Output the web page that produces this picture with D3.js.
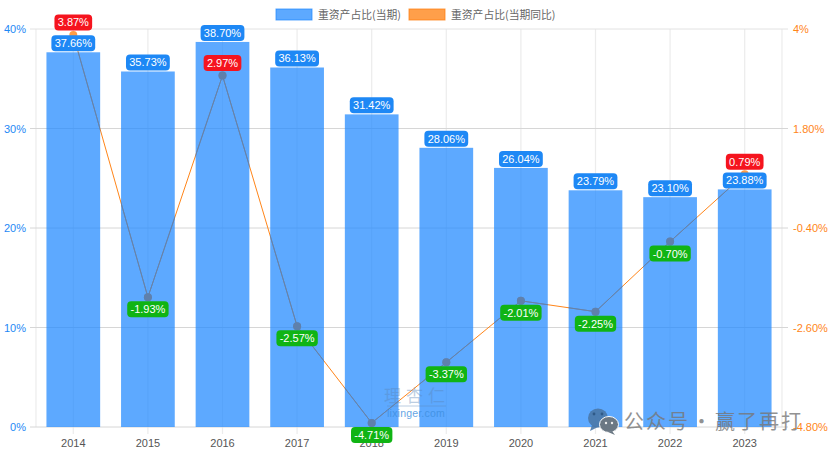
<!DOCTYPE html>
<html>
<head>
<meta charset="utf-8">
<script src="https://cdn.jsdelivr.net/npm/d3@7"></script>
<style>
html, body { margin: 0; padding: 0; background: #fff; }
text { font-family: "Liberation Sans", Arial, sans-serif; }
.cjk { font-family: "Noto Sans CJK SC", sans-serif; }
</style>
</head>
<body>
<div id="main"><svg width="832" height="454"></svg></div>
<script>
var years = ["2014","2015","2016","2017","2018","2019","2020","2021","2022","2023"];
var share = [37.66,35.73,38.70,36.13,31.42,28.06,26.04,23.79,23.10,23.88];
var shareYoy = [3.87,-1.93,2.97,-2.57,-4.71,-3.37,-2.01,-2.25,-0.70,0.79];
var leftTicks = [0,10,20,30,40];
var rightTicks = [-4.80,-2.60,-0.40,1.80,4];
var legendNames = ["重资产占比(当期)","重资产占比(当期同比)"];

var svg = d3.select("#main svg");
var padding = {l: 36, r: 782, t: 29, b: 427};

var xScale = d3.scaleBand().domain(years).range([padding.l, padding.r]).paddingInner(0.28).paddingOuter(0.14);
var xCenter = function(d) { return xScale(d) + xScale.bandwidth() / 2; };
var yLeft = d3.scaleLinear().domain([0, 40]).range([padding.b, padding.t]);
var yRight = d3.scaleLinear().domain([-4.8, 4]).range([padding.b, padding.t]);

var BLUE = "#1e88f5", ORANGE = "#ff8519", GRID = "#ececec", BAR = "rgba(30,136,255,0.72)";

// grid
var grid = svg.append("g");
years.forEach(function(y) {
  grid.append("line").attr("x1", xCenter(y)).attr("x2", xCenter(y))
    .attr("y1", padding.t).attr("y2", padding.b + 7)
    .attr("stroke", GRID).attr("stroke-width", 1.2);
});
[padding.l, padding.r].forEach(function(x) {
  grid.append("line").attr("x1", x).attr("x2", x)
    .attr("y1", padding.t).attr("y2", padding.b).attr("stroke", GRID).attr("stroke-width", 1.2);
});
leftTicks.forEach(function(t) {
  grid.append("line").attr("x1", padding.l - 6).attr("x2", padding.r + 6)
    .attr("y1", yLeft(t)).attr("y2", yLeft(t))
    .attr("stroke", t == 40 ? "#e2e2e2" : "#d6d6d6").attr("stroke-width", 1);
});

var line = d3.line().x(function(d, i) { return xCenter(years[i]); }).y(function(d) { return yRight(d); });

function drawLine(parent, color, dotColor) {
  parent.append("path").datum(shareYoy).attr("d", line)
    .attr("fill", "none").attr("stroke", color).attr("stroke-width", 1);
  parent.selectAll(".dot").data(shareYoy).enter().append("circle")
    .attr("class", "dot")
    .attr("cx", function(d, i) { return xCenter(years[i]); })
    .attr("cy", function(d) { return yRight(d); })
    .attr("r", 4).attr("fill", dotColor);
}

drawLine(svg.append("g"), ORANGE, "#ff9c45");

svg.selectAll(".bar").data(share).enter().append("rect")
  .attr("class", "bar")
  .attr("x", function(d, i) { return xScale(years[i]); })
  .attr("y", function(d) { return yLeft(d); })
  .attr("width", xScale.bandwidth())
  .attr("height", function(d) { return padding.b - yLeft(d); })
  .attr("fill", BAR);

// the line shows grey through the bars, so repeat it clipped to them
var clip = svg.append("clipPath").attr("id", "barClip");
clip.selectAll("rect").data(share).enter().append("rect")
  .attr("x", function(d, i) { return xScale(years[i]); })
  .attr("y", function(d) { return yLeft(d); })
  .attr("width", xScale.bandwidth())
  .attr("height", function(d) { return padding.b - yLeft(d); });
drawLine(svg.append("g").attr("clip-path", "url(#barClip)"), "#6a82a4", "#5f80ac");

// axes
var axisLeft = d3.axisLeft(yLeft).tickValues(leftTicks).tickSize(0).tickPadding(10)
  .tickFormat(function(d) { return d + "%"; });
var gl = svg.append("g").attr("transform", "translate(" + [padding.l, 0] + ")").call(axisLeft);
gl.select(".domain").remove();
gl.selectAll("text").attr("fill", BLUE).style("font-size", "11px");

var axisRight = d3.axisRight(yRight).tickValues(rightTicks).tickSize(0).tickPadding(11)
  .tickFormat(function(d) { return d == 4 ? "4%" : d.toFixed(2) + "%"; });
var gr = svg.append("g").attr("transform", "translate(" + [padding.r, 0] + ")").call(axisRight);
gr.select(".domain").remove();
gr.selectAll("text").attr("fill", ORANGE).style("font-size", "11px");

var axisBottom = d3.axisBottom(xScale).tickSize(0).tickPadding(12);
var gb = svg.append("g").attr("transform", "translate(" + [0, padding.b] + ")").call(axisBottom);
gb.select(".domain").remove();
gb.selectAll("text").attr("fill", "#555").style("font-size", "11px");

// value labels
function addLabel(cx, cy, txt, color) {
  var g = svg.append("g").attr("transform", "translate(" + [cx, cy] + ")");
  var t = g.append("text").text(txt).attr("text-anchor", "middle")
    .attr("dy", "0.36em").attr("fill", "#fff").style("font-size", "11px");
  var w = t.node().getComputedTextLength() + 6.5;
  g.insert("rect", "text").attr("x", -w / 2).attr("y", -8).attr("width", w).attr("height", 16)
    .attr("rx", 4).attr("fill", color);
}
share.forEach(function(d, i) {
  addLabel(xCenter(years[i]), yLeft(d) - 9, d.toFixed(2) + "%", BLUE);
});
shareYoy.forEach(function(d, i) {
  var up = d > 0;
  addLabel(xCenter(years[i]), yRight(d) + (up ? -12.5 : 12), d.toFixed(2) + "%", up ? "#f5141e" : "#10b414");
});

// legend
var legendX = [276, 409], legendColor = ["rgba(30,136,255,0.72)", "rgba(255,127,14,0.75)"];
legendNames.forEach(function(name, i) {
  svg.append("rect").attr("x", legendX[i]).attr("y", 9).attr("width", 36).attr("height", 11)
    .attr("fill", legendColor[i]).attr("stroke", legendColor[i]);
  svg.append("text").attr("class", "cjk").text(name)
    .attr("x", legendX[i] + 42).attr("y", 18.5)
    .attr("fill", "#666").style("font-size", "10.8px");
});

// watermarks
svg.append("text").attr("class", "cjk").text("理杏仁").attr("x", 417).attr("y", 402)
  .attr("text-anchor", "middle").attr("fill", "#5a86b8").attr("opacity", 0.4)
  .style("font-size", "17px").style("letter-spacing", "5px");
svg.append("line").attr("x1", 387).attr("x2", 446).attr("y1", 406).attr("y2", 406)
  .attr("stroke", "#5a86b8").attr("opacity", 0.4);
svg.append("text").text("lixinger.com").attr("x", 416).attr("y", 417)
  .attr("text-anchor", "middle").attr("fill", "#3d8fe0").attr("opacity", 0.8)
  .style("font-size", "10.5px").style("letter-spacing", "0.2px");

var wx = svg.append("g");
wx.append("ellipse").attr("cx", 598).attr("cy", 418).attr("rx", 10).attr("ry", 9.5).attr("fill", "#4a78a8").attr("opacity", 0.9);
wx.append("path").attr("d", "M592 425 L590 431 L598 427 Z").attr("fill", "#4a78a8").attr("opacity", 0.9);
wx.append("ellipse").attr("cx", 609).attr("cy", 424.5).attr("rx", 9.5).attr("ry", 8).attr("fill", "#6b7884").attr("stroke", "#fff").attr("stroke-width", 1);
wx.append("path").attr("d", "M612 431 L615 435 L608 432 Z").attr("fill", "#6b7884");
[[594, 414], [602, 414]].forEach(function(p) {
  wx.append("circle").attr("cx", p[0]).attr("cy", p[1]).attr("r", 1.4).attr("fill", "#2f5a88");
});
[[606, 423], [612, 423]].forEach(function(p) {
  wx.append("circle").attr("cx", p[0]).attr("cy", p[1]).attr("r", 1.2).attr("fill", "#eee");
});
svg.append("text").attr("class", "cjk").text("公众号 · 赢了再打")
  .attr("x", 624).attr("y", 429).attr("fill", "#777").attr("opacity", 0.8)
  .style("font-size", "20px").style("letter-spacing", "2px").style("word-spacing", "-5px");
</script>
</body>
</html>
